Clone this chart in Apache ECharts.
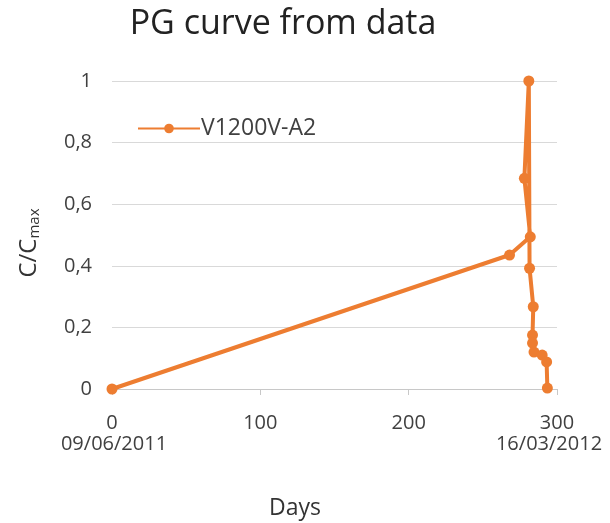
<!DOCTYPE html>
<html>
<head>
<meta charset="utf-8">
<script src="https://cdn.jsdelivr.net/npm/echarts@6/dist/echarts.min.js"></script>
<style>html,body{margin:0;padding:0;background:#fff}#c{width:610px;height:523px}</style>
</head>
<body>
<div id="c"></div>
<script>
// Elapsed days since first sample and normalised concentration C/Cmax
const days   = [0, 268, 282, 278, 281, 281.5, 284, 283.5, 283.5, 284.5, 290, 293, 293.5];
const ratio  = [0, 0.435, 0.494, 0.684, 1.0, 0.392, 0.267, 0.175, 0.149, 0.12, 0.11, 0.088, 0.003];
const seriesName = 'V1200V-A2';
const xTicks = [0, 100, 200, 300];
const yTicks = [0, 0.2, 0.4, 0.6, 0.8, 1];
const dateLabels = ['09/06/2011', '16/03/2012'];

const font = 'Open Sans, Noto Sans, sans-serif';
const orange = '#ED7D31';
const textColor = '#404040';
const points = days.map((d, i) => [d, ratio[i]]);

const chart = echarts.init(document.getElementById('c'));
chart.setOption({
  animation: false,
  title: {
    text: 'PG curve from data',
    left: 278, top: 2, textAlign: 'center',
    textStyle: { fontFamily: font, fontSize: 34, fontWeight: 'normal', color: '#222' }
  },
  legend: {
    left: 132, top: 112,
    itemWidth: 62, itemHeight: 12, itemGap: 4,
    data: [seriesName],
    textStyle: { fontFamily: font, fontSize: 23, color: textColor, padding: [0, 0, 0, -4] }
  },
  grid: { left: 112, right: 53, top: 81, bottom: 134, containLabel: false, outerBoundsMode: 'none' },
  xAxis: {
    type: 'value', min: xTicks[0], max: xTicks[xTicks.length - 1], interval: 100,
    name: 'Days', nameLocation: 'middle', nameGap: 108,
    nameTextStyle: { fontFamily: font, fontSize: 23, color: '#333', padding: [0, 79, 0, 0] },
    axisLine: { show: true, onZero: false, lineStyle: { color: '#c8c8c8', width: 1 } },
    axisTick: { show: true, length: 6, lineStyle: { color: '#c8c8c8' } },
    splitLine: { show: false },
    axisLabel: { fontFamily: font, fontSize: 20, color: textColor, margin: 24 }
  },
  yAxis: {
    type: 'value', min: yTicks[0], max: yTicks[yTicks.length - 1], interval: 0.2,
    name: 'C/C{sub|max}', nameLocation: 'middle', nameGap: 70, nameRotate: 90,
    nameTextStyle: {
      fontFamily: font, fontSize: 24, color: '#333', padding: [0, 16, 0, 0],
      rich: { sub: { fontFamily: font, fontSize: 15, color: '#333', verticalAlign: 'bottom', padding: [10, 0, 0, 0] } }
    },
    axisLine: { show: false },
    axisTick: { show: false },
    splitLine: { show: true, lineStyle: { color: '#d9d9d9', width: 1 } },
    axisLabel: {
      fontFamily: font, fontSize: 20, color: textColor, margin: 20,
      formatter: v => String(Math.round(v * 10) / 10).replace('.', ',')
    }
  },
  graphic: [
    { type: 'text', x: 114, y: 434, style: { text: dateLabels[0], align: 'center', fontFamily: font, fontSize: 20, fill: textColor } },
    { type: 'text', x: 549, y: 434, style: { text: dateLabels[1], align: 'center', fontFamily: font, fontSize: 20, fill: textColor } }
  ],
  series: [{
    name: seriesName,
    type: 'line',
    data: points,
    symbol: 'circle', symbolSize: 11,
    lineStyle: { color: orange, width: 4 },
    itemStyle: { color: orange },
    clip: false
  }]
});
</script>
</body>
</html>
